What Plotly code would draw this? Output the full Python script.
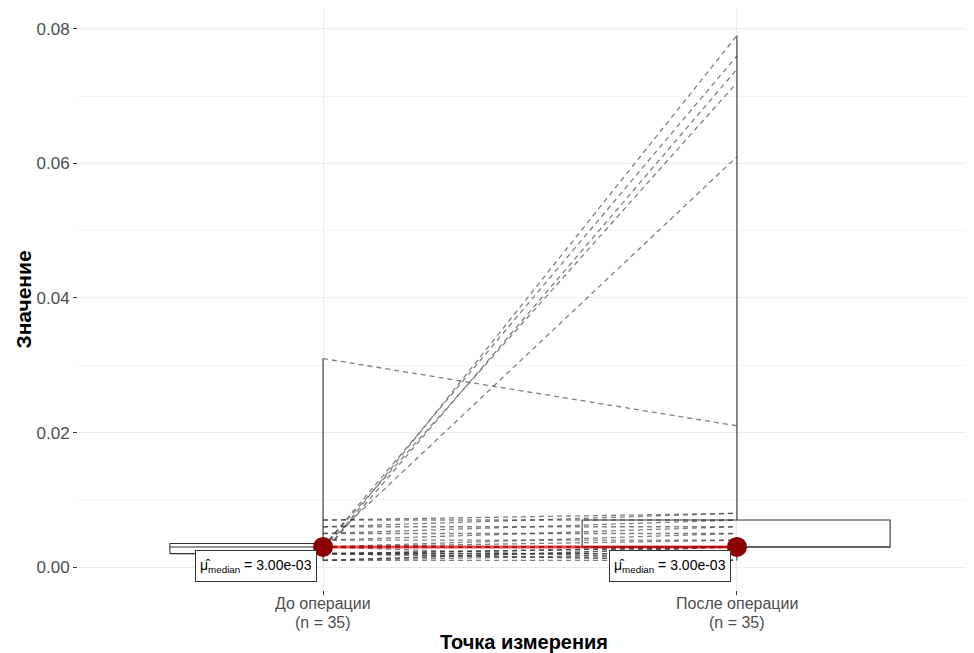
import numpy as np
import plotly.graph_objects as go

# ---- data ----
categories = ["До операции", "После операции"]
n_labels = ["(n = 35)", "(n = 35)"]
before = [0.002, 0.003, 0.002, 0.003, 0.003, 0.031, 0.007, 0.006, 0.007, 0.005,
          0.004, 0.006, 0.005, 0.003, 0.004, 0.003, 0.002, 0.003, 0.003, 0.003,
          0.002, 0.003, 0.003, 0.002, 0.001, 0.003, 0.002, 0.002, 0.001, 0.002,
          0.001, 0.002, 0.003, 0.001, 0.002]
after = [0.079, 0.076, 0.074, 0.072, 0.061, 0.021, 0.008, 0.008, 0.007, 0.007,
         0.006, 0.006, 0.005, 0.005, 0.004, 0.004, 0.003, 0.003, 0.003, 0.003,
         0.003, 0.003, 0.003, 0.003, 0.003, 0.003, 0.002, 0.002, 0.002, 0.002,
         0.001, 0.001, 0.001, 0.003, 0.001]
y_ticks = [0.00, 0.02, 0.04, 0.06, 0.08]

groups = [np.array(before), np.array(after)]
xpos = [0, 1]
FONT = "Liberation Sans, Arial, sans-serif"

fig = go.Figure()

# paired dashed lines
lx, ly = [], []
for b, a in zip(before, after):
    lx += [0, 1, None]
    ly += [b, a, None]
fig.add_trace(go.Scatter(x=lx, y=ly, mode="lines",
                         line=dict(color="rgba(60,60,60,0.65)", width=1.3, dash="5px,4px"),
                         hoverinfo="skip", showlegend=False))

# box-like summaries (as drawn in the reference)
box_extent = [(-0.37, 0.0), (-0.374, 0.37)]
for g, xc, (dl, dr) in zip(groups, xpos, box_extent):
    q1, med, q3 = np.quantile(g, [0.25, 0.5, 0.75])
    lo, hi = g.min(), g.max()
    x0, x1 = xc + dl, xc + dr
    fig.add_trace(go.Scatter(x=[x0, x1, x1, x0, x0, None, x0, x1],
                             y=[q1, q1, q3, q3, q1, None, med, med],
                             mode="lines", line=dict(color="#333333", width=1.1),
                             hoverinfo="skip", showlegend=False))
    fig.add_trace(go.Scatter(x=[xc, xc, None, xc, xc], y=[q3, hi, None, lo, q1],
                             mode="lines", line=dict(color="#333333", width=1.1),
                             hoverinfo="skip", showlegend=False))

# centrality path & points
meds = [float(np.median(g)) for g in groups]
fig.add_trace(go.Scatter(x=xpos, y=meds, mode="lines",
                         line=dict(color="rgba(220,0,0,0.7)", width=3),
                         hoverinfo="skip", showlegend=False))
fig.add_trace(go.Scatter(x=xpos, y=meds, mode="markers",
                         marker=dict(color="#8B0000", size=20),
                         hoverinfo="skip", showlegend=False))

for xc, m in zip(xpos, meds):
    fig.add_annotation(x=xc, y=m, xref="x", yref="y",
                       text=f"μ&#770;<sub>median</sub> = {m:.2e}",
                       showarrow=False, xanchor="right", yanchor="top",
                       xshift=-6, yshift=-3, height=22, valign="middle",
                       font=dict(family=FONT, size=14, color="black"),
                       bgcolor="white", bordercolor="#333333", borderwidth=1, borderpad=4)

# x tick labels (two lines)
for xc, c, n in zip(xpos, categories, n_labels):
    fig.add_annotation(x=xc, y=0, xref="x", yref="paper", xanchor="center", yanchor="top",
                       yshift=-3, height=19, borderpad=0, valign="middle", showarrow=False, text=c,
                       font=dict(family=FONT, size=16, color="#4d4d4d"))
    fig.add_annotation(x=xc, y=0, xref="x", yref="paper", xanchor="center", yanchor="top",
                       yshift=-22, height=19, borderpad=0, valign="middle", showarrow=False, text=n,
                       font=dict(family=FONT, size=16, color="#4d4d4d"))

# axis titles
fig.add_annotation(x=0.5, y=0, xref="paper", yref="paper", xanchor="center", yanchor="top",
                   yshift=-39, showarrow=False, text="<b>Точка измерения</b>",
                   font=dict(family=FONT, size=20, color="black"))
fig.add_annotation(x=0, y=0.5, xref="paper", yref="paper", xanchor="right", yanchor="middle",
                   xshift=-42, showarrow=False, text="<b>Значение</b>", textangle=-90,
                   font=dict(family=FONT, size=21, color="black"))

# the page body has an 8px margin, so the figure is sized/offset to fill the window
fig.update_layout(
    width=966, height=645,
    margin=dict(l=70, r=4, t=2, b=63),
    plot_bgcolor="white", paper_bgcolor="white",
    font=dict(family=FONT, color="#4d4d4d", size=17),
    xaxis=dict(range=[-0.592, 1.563], tickvals=xpos, showticklabels=False, automargin=False,
               showgrid=True, gridcolor="#ebebeb", gridwidth=1, zeroline=False,
               ticks="outside", ticklen=4, tickcolor="#333333"),
    yaxis=dict(range=[-0.0034, 0.0828], tickvals=y_ticks, tickformat=".2f", automargin=False,
               showgrid=True, gridcolor="#ebebeb", gridwidth=1, zeroline=False,
               minor=dict(dtick=0.01, tick0=0.01, showgrid=True, gridcolor="#f4f4f4"),
               ticks="outside", ticklen=4, tickcolor="#333333",
               tickfont=dict(size=17)),
)

fig.write_html("out.html")
